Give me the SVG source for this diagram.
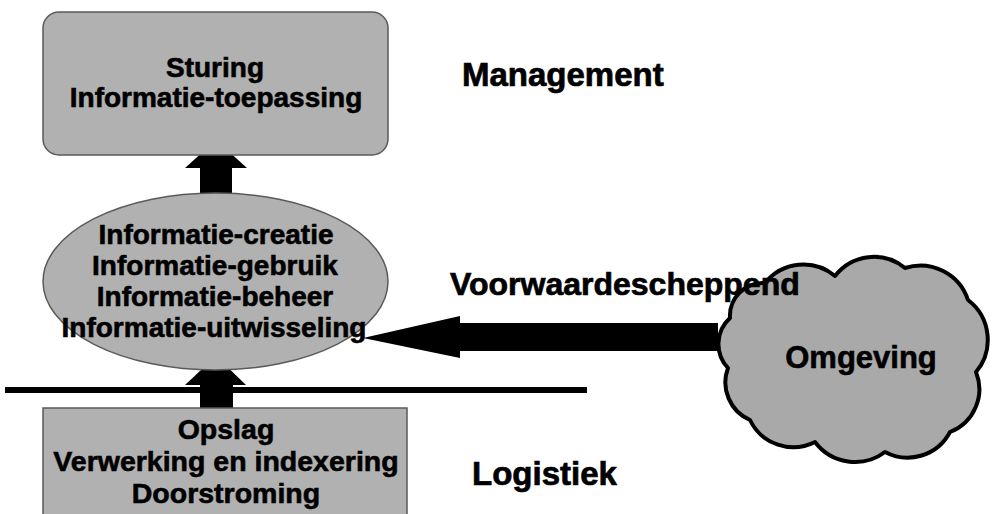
<svg xmlns="http://www.w3.org/2000/svg" width="996" height="514" viewBox="0 0 996 514">
<defs>
<style>
.shape{fill:#b1b1b1;stroke:#5a5a5a;stroke-width:1.5}
.t{font-family:"Liberation Sans",Arial,Helvetica,sans-serif;font-weight:bold;fill:#000;stroke:#000;stroke-width:0.6;text-anchor:middle}
.n{font-size:28px}
.lbl{font-family:"Liberation Sans",Arial,Helvetica,sans-serif;font-weight:bold;fill:#000;stroke:#000;stroke-width:0.7;font-size:33px}
.arrow{fill:#000;stroke:none}
</style>
</defs>
<rect width="996" height="514" fill="#fff"/>
<line id="separator" x1="5" y1="390" x2="587" y2="390" stroke="#000" stroke-width="6"/>
<g id="connectors">
  <g id="arrow-ellipse-to-top">
    <rect class="arrow" x="200" y="160" width="32" height="40"/>
    <polygon class="arrow" points="185,168 247,168 216,140"/>
  </g>
  <g id="arrow-bottom-to-ellipse">
    <rect class="arrow" x="200" y="378" width="33" height="34"/>
    <polygon class="arrow" points="185,385 246,385 216,356"/>
  </g>
  <g id="arrow-omgeving-to-ellipse">
    <polygon class="arrow" points="363,338 460,316 460,323 718,323 718,351 460,351 460,358"/>
  </g>
</g>
<g id="node-sturing">
  <rect class="shape" x="43" y="12" width="345" height="143" rx="16" ry="16"/>
  <text class="t n" x="215" y="77">Sturing</text>
  <text class="t n" x="216" y="107">Informatie-toepassing</text>
</g>
<g id="node-informatie">
  <ellipse class="shape" cx="215.5" cy="281.5" rx="172.5" ry="88.5"/>
  <text class="t n" x="216" y="244">Informatie-creatie</text>
  <text class="t n" x="215" y="275">Informatie-gebruik</text>
  <text class="t n" x="215" y="306">Informatie-beheer</text>
  <text class="t n" x="214" y="337">Informatie-uitwisseling</text>
</g>
<g id="node-logistiek-box">
  <rect class="shape" x="43" y="408" width="364" height="112"/>
  <text class="t" style="font-size:28.5px" x="226" y="439">Opslag</text>
  <text class="t" style="font-size:28.5px" x="226" y="471">Verwerking en indexering</text>
  <text class="t" style="font-size:28.5px" x="226" y="503">Doorstroming</text>
</g>
<g id="node-omgeving">
  <path d="M730,318 A33,33 0 0 1 765,283 A49,49 0 0 1 835,276 A49,49 0 0 1 905,268 A50,50 0 0 1 968,300 A50,50 0 0 1 976,372 A46,46 0 0 1 950,432 A48,48 0 0 1 885,452 A50,50 0 0 1 815,442 A48,48 0 0 1 750,420 A41,41 0 0 1 728,368 A35,35 0 0 1 730,318 Z" fill="#a9a9a9" stroke="#000" stroke-width="4" stroke-linejoin="round"/>
  <text class="t" style="font-size:31px" x="861" y="368">Omgeving</text>
</g>
<g id="label-management">
  <text class="lbl" x="462" y="86">Management</text>
</g>
<g id="label-voorwaardescheppend">
  <text class="lbl" style="font-size:32px" x="450" y="295">Voorwaardescheppend</text>
</g>
<g id="label-logistiek">
  <text class="lbl" x="472" y="485">Logistiek</text>
</g>
</svg>
